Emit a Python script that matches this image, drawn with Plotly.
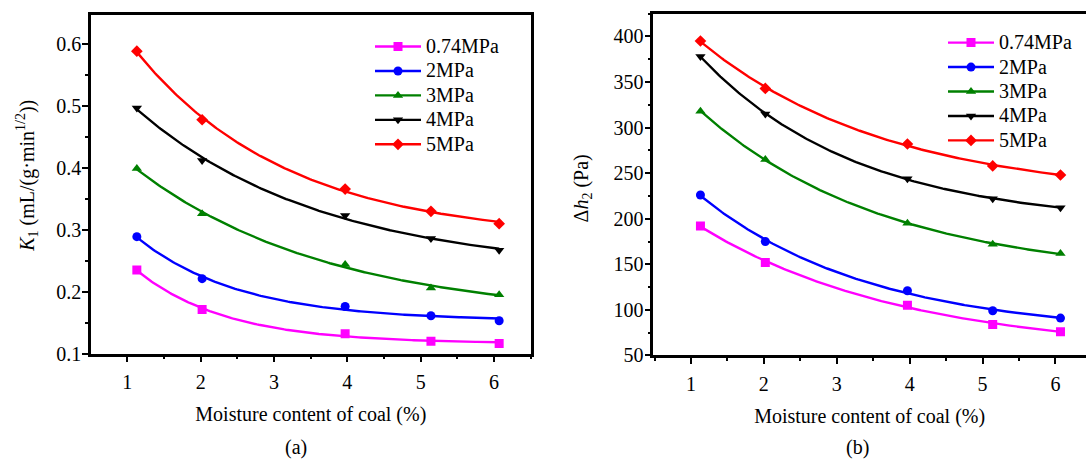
import numpy as np
import plotly.graph_objects as go

# Moisture content of coal (%)
moisture = [1.13, 2.02, 3.97, 5.14, 6.07]

pressure_labels = ["0.74MPa", "2MPa", "3MPa", "4MPa", "5MPa"]

# K1 (mL/(g·min^1/2)) for each gas pressure
k1_074 = [0.235, 0.171, 0.132, 0.120, 0.116]
k1_2 = [0.289, 0.221, 0.176, 0.161, 0.153]
k1_3 = [0.399, 0.326, 0.244, 0.206, 0.195]
k1_4 = [0.497, 0.412, 0.323, 0.286, 0.267]
k1_5 = [0.589, 0.478, 0.366, 0.330, 0.310]

# Δh2 (Pa) for each gas pressure
dh2_074 = [192, 152, 105, 84, 76]
dh2_2 = [226, 175, 121, 99, 91]
dh2_3 = [318, 265, 195, 172, 162]
dh2_4 = [378, 315, 244, 222, 212]
dh2_5 = [395, 343, 282, 258, 248]

k1_series = [k1_074, k1_2, k1_3, k1_4, k1_5]
dh2_series = [dh2_074, dh2_2, dh2_3, dh2_4, dh2_5]

colors = ["#FF00FF", "#0000FF", "#008000", "#000000", "#FF0000"]
symbols = ["square", "circle", "triangle-up", "triangle-down", "diamond"]

FONT = "Liberation Serif, Times New Roman, serif"
FS = 20
LEGEND_FS = 16.5  # sets the legend row pitch; entry text is drawn at FS


def exp_decay_fit(x, y):
    """Least-squares fit of y = y0 + A*exp(-x/t); returns a callable."""
    x = np.asarray(x, float)
    y = np.asarray(y, float)
    best = None
    for t in np.linspace(0.2, 30, 3000):
        M = np.column_stack([np.ones_like(x), np.exp(-x / t)])
        coef, *_ = np.linalg.lstsq(M, y, rcond=None)
        err = np.sum((M @ coef - y) ** 2)
        if best is None or err < best[0]:
            best = (err, t, coef)
    _, t, (y0, a) = best
    return lambda xx: y0 + a * np.exp(-np.asarray(xx) / t)


fig = go.Figure()


def add_panel(series, xref, yref, legend_name):
    xs = np.linspace(moisture[0], moisture[-1], 200)
    for vals, name, col, sym in zip(series, pressure_labels, colors, symbols):
        f = exp_decay_fit(moisture, vals)
        # fitted curve
        fig.add_trace(go.Scatter(
            x=xs, y=f(xs), mode="lines", xaxis=xref, yaxis=yref,
            line=dict(color=col, width=2.4), showlegend=False, hoverinfo="skip"))
        # measured points
        fig.add_trace(go.Scatter(
            x=moisture, y=vals, mode="markers", xaxis=xref, yaxis=yref,
            marker=dict(color=col, symbol=sym, size=9), showlegend=False))
        # legend entry (line with marker)
        fig.add_trace(go.Scatter(
            x=[None], y=[None], mode="lines+markers", xaxis=xref, yaxis=yref,
            name=f"<span style='font-size:{FS}px'>{name}</span>", legend=legend_name,
            line=dict(color=col, width=2.4),
            marker=dict(color=col, symbol=sym, size=9)))


add_panel(k1_series, "x", "y", "legend")
add_panel(dh2_series, "x2", "y2", "legend2")

W, H = 1086, 469

axis_common = dict(
    showline=True, linecolor="black", linewidth=2.5,
    ticks="outside", ticklen=6, tickwidth=2, tickcolor="black",
    showgrid=False, zeroline=False,
    tickfont=dict(family=FONT, size=FS, color="black"),
    minor=dict(ticks="outside", ticklen=3, tickwidth=2, tickcolor="black", showgrid=False),
)

legend_common = dict(xanchor="left", yanchor="top", bgcolor="rgba(0,0,0,0)",
                     font=dict(family=FONT, size=LEGEND_FS, color="black"),
                     itemwidth=46, tracegroupgap=0)

fig.update_layout(
    width=W, height=H,
    margin=dict(l=0, r=0, t=0, b=0),
    paper_bgcolor="white", plot_bgcolor="white",
    font=dict(family=FONT, size=FS, color="black"),
    xaxis=dict(domain=[91 / W, 530.7 / W], range=[0.505, 6.5], tick0=0, dtick=1,
               mirror=True, anchor="y", ticklabelstandoff=3,
               title=dict(text="Moisture content of coal (%)", font=dict(family=FONT, size=FS)),
               **axis_common),
    yaxis=dict(domain=[1 - 362 / H, 1 - 15 / H], range=[0.1, 0.648], tick0=0, dtick=0.1,
               mirror=True, anchor="x", ticklabelstandoff=-3, **axis_common),
    xaxis2=dict(domain=[653.3 / W, 1.0], range=[0.483, 6.42], tick0=0, dtick=1,
                mirror=True, anchor="y2", ticklabelstandoff=3,
                title=dict(text="Moisture content of coal (%)", font=dict(family=FONT, size=FS)),
                **axis_common),
    yaxis2=dict(domain=[1 - 364 / H, 1 - 14 / H], range=[50, 425], tick0=0, dtick=50,
                mirror=False, anchor="x2", ticklabelstandoff=-3, **axis_common),
    legend=dict(x=370 / W, y=1 - 30 / H, **legend_common),
    legend2=dict(x=943 / W, y=1 - 26 / H, **legend_common),
)

fig.update_xaxes(minor_dtick=0.5)
fig.update_yaxes(minor_dtick=0.05, selector=dict(anchor="x"))
fig.update_yaxes(minor_dtick=25, selector=dict(anchor="x2"))

annotations = [
    dict(text="<i>K</i><sub>1</sub> (mL/(g·min<sup>1/2</sup>))", x=27 / W, y=1 - 180 / H,
         textangle=-90),
    dict(text="Δ<i>h</i><sub>2</sub> (Pa)", x=582 / W, y=1 - 193 / H, textangle=-90),
    dict(text="(a)", x=296 / W, y=1 - 458 / H),
    dict(text="(b)", x=857 / W, y=1 - 458 / H),
]
for a in annotations:
    fig.add_annotation(xref="paper", yref="paper", showarrow=False,
                       xanchor="center", yanchor="middle",
                       font=dict(family=FONT, size=FS, color="black"), **a)

fig.write_html("out.html")
